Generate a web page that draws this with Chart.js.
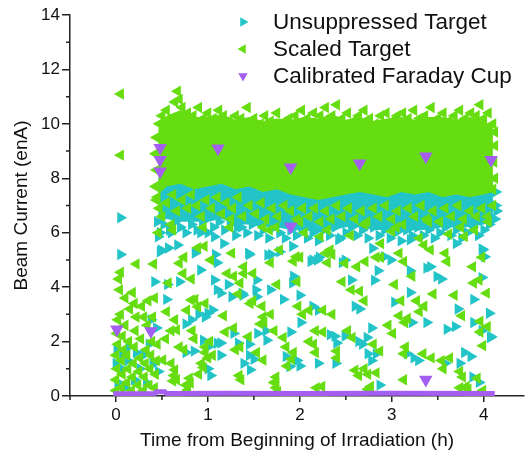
<!DOCTYPE html>
<html>
<head>
<meta charset="utf-8">
<script src="https://cdn.jsdelivr.net/npm/chart.js@4.4.1/dist/chart.umd.min.js"></script>
<style>
  html, body { margin: 0; padding: 0; background: #fff; }
  #wrap { width: 532px; height: 456px; }
</style>
</head>
<body>
<div id="wrap"><canvas id="beamChart" width="532" height="456"></canvas></div>
<script>
// legend text / colours
const seriesNames = ['Unsuppressed Target', 'Scaled Target', 'Calibrated Faraday Cup'];
const seriesColors = ['#22c4c8', '#66dd11', '#a45ef0'];
const markerRotations = [90, 270, 180];

// axis ticks
const xMajorTicks = [0, 1, 2, 3, 4];
const xMinorTicks = [-0.5, 0.5, 1.5, 2.5, 3.5];
const yMajorTicks = [0, 2, 4, 6, 8, 10, 12, 14];
const yMinorTicks = [1, 3, 5, 7, 9, 11, 13];

// dense band (too many points to pick one by one) - edges
const bandTimes = [0.46, 0.55, 0.7, 0.85, 1.0, 1.15, 1.3, 1.45, 1.6, 1.75, 1.9, 2.05, 2.2, 2.35, 2.5, 2.65, 2.8, 2.95, 3.1, 3.25, 3.4, 3.55, 3.7, 3.85, 4.0, 4.1];
const unsuppressedBandTop = [8.0, 8.2, 8.1, 8.0, 8.1, 8.0, 8.0, 7.9, 8.0, 7.9, 7.8, 7.8, 7.7, 7.8, 7.8, 7.9, 7.8, 7.8, 7.9, 7.8, 7.9, 7.8, 7.9, 7.9, 8.0, 8.0];
const unsuppressedBandBottom = [6.4, 6.5, 6.4, 6.4, 6.4, 6.5, 6.3, 6.3, 6.2, 6.2, 6.1, 6.1, 6.0, 6.1, 6.2, 6.2, 6.1, 6.1, 6.0, 6.1, 6.1, 6.2, 6.2, 6.2, 6.3, 6.4];
const scaledBandTop = [10.0, 10.3, 10.5, 10.25, 10.25, 10.35, 10.15, 10.25, 10.1, 10.2, 10.15, 10.25, 10.2, 10.35, 10.15, 10.25, 10.1, 10.2, 10.25, 10.15, 10.25, 10.25, 10.15, 10.25, 10.1, 9.9];
const scaledBandBottom = [7.4, 7.7, 7.8, 7.6, 7.7, 7.8, 7.6, 7.7, 7.5, 7.6, 7.4, 7.3, 7.2, 7.3, 7.4, 7.5, 7.4, 7.3, 7.5, 7.4, 7.5, 7.3, 7.4, 7.3, 7.4, 7.5];

// Unsuppressed Target [time (h), current (enA)]
const unsuppressedEarly = [
  [0.0, 1.2], [0.01, 1.7], [0.02, 0.5], [0.06, 1.0], [0.07, 1.5], [0.09, 0.3], [0.13, 1.3], [0.14, 1.8],
  [0.2, 0.6], [0.22, 1.6], [0.26, 1.0], [0.3, 1.5], [0.33, 0.5], [0.36, 1.9], [0.4, 1.2], [0.44, 2.5],
  [0.38, 2.8], [0.42, 1.2], [0.05, 6.55], [0.05, 5.2]
];
const unsuppressedScatter = [
  [0.48, 5.3], [0.86, 5.25], [1.1, 4.9], [1.08, 5.2], [1.45, 5.2], [1.69, 5.2], [1.78, 5.3],
  [0.42, 4.2], [0.56, 4.1], [0.69, 4.2], [1.1, 3.9], [1.22, 4.1], [1.52, 3.9], [1.68, 3.9], [1.93, 4.4], [2.0, 3.7],
  [0.55, 3.55], [0.9, 3.0], [0.97, 2.9], [1.26, 3.65], [1.38, 3.7], [1.82, 3.55],
  [0.76, 2.65], [0.76, 1.6], [0.85, 1.65], [0.95, 2.05], [1.14, 1.95], [1.45, 1.9], [1.54, 2.3], [1.64, 2.05],
  [1.63, 2.4], [1.9, 2.35], [2.01, 2.7], [1.0, 1.0], [1.03, 0.75], [1.14, 1.5], [1.45, 1.5], [1.5, 1.35],
  [1.97, 1.3], [2.0, 1.1], [0.46, 5.85], [0.6, 6.0], [0.67, 5.55], [0.49, 5.37], [0.57, 5.44], [0.92, 6.0],
  [1.07, 5.85], [1.17, 5.6], [1.32, 6.2], [1.44, 5.25], [1.53, 4.26], [1.65, 5.18], [1.92, 4.15], [0.92, 4.63],
  [1.07, 4.26], [1.14, 3.78], [1.37, 3.78], [1.53, 3.65], [1.0, 3.04], [1.05, 3.16], [0.82, 2.8], [0.46, 0.9],
  [1.01, 1.82], [1.1, 1.94], [1.33, 1.94], [1.28, 2.3], [1.39, 1.2], [1.46, 0.96], [1.85, 1.45], [1.89, 1.08],
  [2.14, 5.0], [2.21, 5.1], [2.46, 4.9], [2.49, 5.0], [2.6, 3.3], [2.65, 3.2], [2.81, 4.25], [2.85, 4.6],
  [3.03, 3.45], [3.2, 3.8], [3.2, 4.6], [3.38, 4.7], [3.54, 4.3], [3.89, 3.55], [3.98, 4.35], [3.98, 5.4],
  [3.72, 3.2], [3.89, 2.7], [3.98, 2.4], [4.07, 2.15], [3.22, 2.7], [3.38, 2.7], [3.6, 2.45], [3.69, 2.55],
  [2.78, 2.5], [2.73, 2.15], [2.64, 2.0], [2.68, 1.9], [2.38, 2.2], [2.4, 1.95], [2.14, 3.3], [2.2, 3.15],
  [2.33, 2.25], [2.49, 2.2], [2.2, 1.2], [2.39, 1.2], [2.74, 1.55], [2.78, 1.3], [2.83, 1.55], [3.17, 1.55],
  [3.24, 1.4], [3.29, 1.3], [3.58, 1.2], [3.74, 1.2], [3.88, 0.7], [3.95, 0.5], [3.79, 1.6], [3.86, 1.45],
  [2.87, 0.4], [1.92, 5.5], [2.12, 4.94], [2.19, 5.0], [2.42, 5.74], [2.56, 4.26], [2.79, 5.43], [2.92, 5.12],
  [2.99, 5.0], [3.2, 5.74], [3.42, 4.75], [3.49, 4.39], [3.7, 5.6], [3.99, 5.37], [4.01, 5.12], [4.06, 3.04],
  [4.08, 2.18]
];
const unsuppressedBandEdge = [
  [0.45, 6.4], [0.48, 6.0], [0.52, 6.3], [0.58, 6.1], [0.64, 6.4], [0.7, 6.2], [0.76, 6.0], [0.82, 6.3],
  [0.88, 6.1], [0.94, 6.4], [1.0, 6.0], [1.06, 6.2], [1.12, 6.4], [1.18, 6.1], [1.24, 6.3], [1.3, 5.9],
  [1.36, 6.2], [1.42, 6.0], [1.48, 6.3], [1.54, 5.9], [1.6, 6.1], [1.66, 5.8], [1.72, 6.2], [1.78, 6.0],
  [1.84, 5.8], [1.9, 6.1], [1.96, 5.9], [2.02, 6.2], [2.08, 5.8], [2.14, 6.0], [2.2, 5.7], [2.26, 6.1],
  [2.32, 5.9], [2.38, 6.2], [2.44, 5.8], [2.5, 6.0], [2.56, 6.2], [2.62, 5.9], [2.68, 6.1], [2.74, 5.8],
  [2.8, 6.2], [2.86, 5.9], [2.92, 6.1], [2.98, 5.8], [3.04, 6.0], [3.1, 5.7], [3.16, 6.1], [3.22, 5.9],
  [3.28, 6.2], [3.34, 5.9], [3.4, 6.1], [3.46, 5.8], [3.52, 6.0], [3.58, 6.2], [3.64, 5.9], [3.7, 6.1],
  [3.76, 5.8], [3.82, 6.0], [3.88, 6.2], [3.94, 5.9], [4.0, 6.1], [4.06, 6.3], [4.12, 6.5], [4.13, 7.0],
  [4.13, 7.5], [4.14, 6.8], [0.52, 7.9], [1.15, 7.95], [1.7, 7.7], [2.25, 7.6], [2.9, 7.65], [3.5, 7.7]
];

// Scaled Target [time (h), current (enA)]
const scaledEarly = [
  [0.0, 0.2], [0.0, 0.6], [0.01, 1.0], [0.0, 1.5], [0.02, 1.9], [0.01, 2.3], [0.02, 2.8], [0.05, 3.0],
  [0.06, 0.3], [0.07, 0.8], [0.06, 1.3], [0.08, 1.7], [0.07, 2.2], [0.1, 2.6], [0.12, 0.5], [0.13, 1.0],
  [0.12, 1.5], [0.14, 2.0], [0.15, 3.2], [0.17, 0.2], [0.18, 0.7], [0.19, 1.2], [0.2, 1.8], [0.21, 2.4],
  [0.22, 2.9], [0.24, 0.4], [0.25, 0.9], [0.26, 1.4], [0.27, 2.1], [0.28, 3.3], [0.3, 0.2], [0.31, 0.7],
  [0.32, 1.2], [0.33, 1.7], [0.34, 2.6], [0.36, 0.4], [0.37, 1.0], [0.38, 1.5], [0.39, 2.0], [0.4, 2.9],
  [0.42, 0.3], [0.43, 0.8], [0.44, 1.3], [0.45, 1.9], [0.3, 2.9], [0.2, 3.4], [0.35, 3.5],
  [0.03, 4.3], [0.05, 4.55], [0.04, 3.9], [0.22, 4.85], [0.18, 3.8], [0.41, 4.85], [0.42, 3.6], [0.1, 3.6],
  [0.05, 11.1], [0.05, 8.85]
];
const scaledScatter = [
  [0.69, 4.88], [0.74, 5.1], [1.26, 5.25], [1.68, 4.9], [1.93, 4.95], [2.0, 5.1],
  [0.73, 4.5], [0.82, 4.3], [0.57, 4.15], [1.28, 4.4], [1.39, 4.5], [1.75, 4.1], [1.97, 4.2],
  [0.86, 3.55], [0.97, 3.4], [0.55, 3.1], [0.77, 3.15], [1.17, 2.95], [1.33, 3.75], [1.46, 3.4], [1.6, 2.9],
  [1.68, 3.0], [1.98, 3.3], [2.03, 3.0], [0.54, 2.1], [0.6, 2.4], [0.69, 1.8], [0.74, 1.7], [0.85, 2.1],
  [0.83, 2.4], [0.97, 1.8], [1.02, 2.0], [1.19, 2.35], [1.28, 2.5], [1.3, 1.7], [1.35, 1.8], [1.57, 2.65],
  [1.61, 2.7], [1.72, 2.4], [1.82, 2.15], [1.93, 1.6], [0.6, 1.2], [0.63, 0.75], [0.62, 0.55], [0.76, 0.4],
  [0.8, 0.65], [0.9, 0.8], [0.93, 1.2], [0.95, 1.05], [1.0, 1.4], [0.97, 1.6], [1.34, 0.75], [1.36, 0.6],
  [1.72, 0.5], [1.74, 0.3], [1.74, 0.7], [1.86, 1.1], [1.91, 1.35], [0.46, 6.0], [0.62, 6.1], [0.96, 5.5],
  [0.89, 5.45], [1.24, 6.2], [1.39, 4.75], [1.49, 4.5], [1.67, 6.1], [1.74, 6.2], [1.78, 5.37], [1.03, 5.0],
  [1.21, 4.5], [1.35, 4.15], [1.49, 3.5], [1.59, 3.3], [0.82, 3.53], [0.89, 3.28], [0.64, 2.8], [0.66, 2.43],
  [0.51, 1.32], [0.64, 0.96], [0.66, 0.6], [0.78, 0.22], [0.81, 0.48], [1.05, 1.5], [1.44, 2.18], [1.53, 1.6],
  [1.6, 1.32], [1.74, 0.47], [1.76, 0.16], [1.85, 1.8], [2.35, 5.2], [2.3, 4.9], [2.46, 4.2], [2.56, 3.9],
  [2.65, 3.85], [2.7, 3.5], [2.83, 5.1], [2.88, 5.1], [3.03, 4.1], [3.1, 3.5], [3.22, 4.4], [3.27, 3.5],
  [3.45, 3.75], [3.68, 3.7], [3.89, 4.15], [3.98, 5.1], [3.76, 2.95], [3.96, 2.75], [4.04, 2.55], [3.17, 2.85],
  [3.3, 3.1], [3.35, 3.3], [3.08, 2.95], [3.14, 2.7], [2.96, 2.6], [3.01, 2.3], [2.8, 1.9], [2.87, 1.65],
  [2.52, 2.4], [2.57, 2.15], [2.25, 2.35], [2.17, 2.4], [2.1, 3.15], [2.25, 3.15], [2.35, 3.0], [2.1, 2.0],
  [2.15, 1.9], [2.17, 1.6], [2.4, 1.65], [2.4, 1.4], [2.6, 0.95], [2.64, 0.75], [2.7, 1.0], [2.74, 0.8],
  [2.83, 0.85], [3.15, 1.8], [3.13, 1.55], [3.34, 1.55], [3.43, 1.4], [3.54, 1.3], [3.63, 1.4], [3.56, 1.0],
  [3.74, 0.9], [3.77, 0.7], [3.93, 0.65], [3.96, 2.35], [3.99, 1.85], [2.18, 0.3], [2.24, 0.35], [2.74, 0.25],
  [2.77, 0.35], [3.13, 0.6], [3.74, 0.3], [3.81, 0.35], [3.83, 0.25], [3.99, 0.2], [1.96, 5.12], [2.28, 5.25],
  [2.33, 5.37], [2.22, 5.86], [2.49, 4.88], [2.62, 4.75], [2.71, 4.94], [2.88, 5.6], [3.08, 5.25], [3.13, 4.94],
  [3.35, 5.55], [3.42, 5.37], [3.58, 5.25], [3.6, 4.94], [3.79, 5.86], [3.88, 4.75], [3.95, 4.26], [4.03, 3.78],
  [2.05, 6.0], [2.55, 5.9], [3.0, 6.05], [3.3, 5.8], [3.62, 5.95], [3.9, 6.1]
];
const scaledBandTopEdge = [
  [0.47, 10.0], [0.5, 10.3], [0.55, 10.5], [0.6, 10.2], [0.64, 10.8], [0.67, 11.2], [0.69, 10.9], [0.72, 10.6],
  [0.78, 10.4], [0.84, 10.3], [0.9, 10.6], [0.95, 10.2], [1.0, 10.4], [1.06, 10.2], [1.12, 10.5], [1.17, 10.3],
  [1.23, 10.1], [1.3, 10.3], [1.36, 10.2], [1.43, 10.6], [1.5, 10.2], [1.57, 10.0], [1.62, 10.3], [1.68, 10.1],
  [1.75, 10.4], [1.82, 10.0], [1.88, 10.2], [1.95, 10.3], [2.02, 10.5], [2.08, 10.2], [2.15, 10.4], [2.22, 10.3],
  [2.28, 10.6], [2.35, 10.3], [2.4, 10.7], [2.46, 10.2], [2.52, 10.4], [2.58, 10.1], [2.64, 10.3], [2.7, 10.5],
  [2.76, 10.2], [2.82, 10.0], [2.88, 10.3], [2.94, 10.4], [3.0, 10.1], [3.06, 10.3], [3.12, 10.4], [3.18, 10.2],
  [3.24, 10.5], [3.3, 10.2], [3.36, 10.3], [3.43, 10.6], [3.5, 10.2], [3.56, 10.4], [3.62, 10.1], [3.68, 10.3],
  [3.74, 10.5], [3.8, 10.2], [3.86, 10.4], [3.92, 10.3], [3.96, 10.7], [4.0, 10.2], [4.05, 10.4], [4.1, 10.0],
  [4.12, 9.7], [4.12, 9.2], [4.11, 8.6], [4.12, 8.0], [4.1, 7.6], [0.44, 9.5], [0.43, 8.9], [0.44, 8.3],
  [0.43, 7.7], [0.44, 7.2]
];
const scaledBandLowEdge = [
  [0.45, 7.3], [0.47, 6.9], [0.5, 6.6], [0.55, 7.1], [0.62, 7.4], [0.66, 6.8], [0.72, 7.2], [0.78, 6.9],
  [0.82, 7.4], [0.88, 7.0], [0.93, 6.6], [0.98, 7.2], [1.04, 6.9], [1.1, 7.3], [1.15, 6.7], [1.2, 7.1],
  [1.27, 6.9], [1.33, 7.3], [1.38, 6.6], [1.45, 7.0], [1.52, 6.7], [1.58, 7.1], [1.63, 6.5], [1.7, 6.9],
  [1.76, 6.6], [1.83, 7.0], [1.9, 6.8], [1.97, 6.5], [2.03, 6.9], [2.1, 6.6], [2.16, 6.9], [2.22, 6.4],
  [2.28, 6.8], [2.34, 6.5], [2.4, 7.0], [2.46, 6.6], [2.53, 6.9], [2.6, 6.5], [2.67, 6.8], [2.73, 6.4],
  [2.8, 6.9], [2.86, 6.6], [2.93, 7.0], [3.0, 6.5], [3.06, 6.8], [3.12, 6.3], [3.18, 6.9], [3.25, 6.6],
  [3.32, 7.0], [3.38, 6.5], [3.45, 6.8], [3.52, 6.4], [3.58, 6.9], [3.65, 6.6], [3.72, 7.0], [3.78, 6.5],
  [3.85, 6.8], [3.92, 6.6], [3.98, 6.9], [4.04, 6.6], [4.1, 7.0],
  [0.6, 6.3], [0.95, 6.2], [1.25, 6.5], [1.6, 6.2], [2.0, 6.4], [2.3, 6.1], [2.7, 6.3], [3.05, 6.2],
  [3.4, 6.4], [3.75, 6.2], [4.05, 6.4]
];

// Calibrated Faraday Cup
const faradayPoints = [
  [0.01, 2.45], [0.38, 2.38], [0.48, 9.12], [0.48, 8.68], [0.48, 8.25], [1.11, 9.1], [1.9, 8.4], [1.9, 6.22],
  [2.65, 8.55], [3.37, 8.8], [4.08, 8.68], [3.37, 0.6]
];
const faradayBaseTimes = [-0.03, 0.42, 0.44, 0.53, 0.55, 1.2, 2.0, 3.0, 4.12];
const faradayBaseValues = [0.08, 0.08, 0.16, 0.16, 0.09, 0.1, 0.09, 0.1, 0.09];

const axisColor = '#222';
const textColor = '#111';
const fontFamily = '"Liberation Sans", Arial, Helvetica, sans-serif';

function pts(list) {
  return list.map(p => ({ x: p[0], y: p[1] }));
}
function bandLine(values) {
  return bandTimes.map((t, i) => ({ x: t, y: values[i] }));
}

function drawTriangle(ctx, x, y, r, rotDeg, color) {
  let rad = rotDeg * Math.PI / 180;
  ctx.beginPath();
  for (let k = 0; k < 3; k++) {
    const a = rad + k * 2 * Math.PI / 3;
    const px = x + Math.sin(a) * r;
    const py = y - Math.cos(a) * r;
    if (k === 0) ctx.moveTo(px, py); else ctx.lineTo(px, py);
  }
  ctx.closePath();
  ctx.fillStyle = color;
  ctx.fill();
}

// legend sits inside the plot, top right
const cornerLegend = {
  id: 'cornerLegend',
  afterDraw(chart) {
    const ctx = chart.ctx;
    ctx.save();
    ctx.font = '22.5px ' + fontFamily;
    ctx.textBaseline = 'middle';
    seriesNames.forEach((name, i) => {
      const y = 22 + i * 27;
      drawTriangle(ctx, 243, y, 5.5, markerRotations[i], seriesColors[i]);
      ctx.fillStyle = textColor;
      ctx.fillText(name, 273, y + 1);
    });
    ctx.restore();
  }
};

// short minor ticks between the labelled ones
const minorTicks = {
  id: 'minorTicks',
  afterDraw(chart) {
    const { ctx, scales } = chart;
    const x = scales.x, y = scales.y;
    ctx.save();
    ctx.strokeStyle = axisColor;
    ctx.lineWidth = 1.5;
    ctx.beginPath();
    xMinorTicks.forEach(v => {
      const px = x.getPixelForValue(v);
      ctx.moveTo(px, x.top);
      ctx.lineTo(px, x.top + 4);
    });
    yMinorTicks.forEach(v => {
      const py = y.getPixelForValue(v);
      ctx.moveTo(y.right, py);
      ctx.lineTo(y.right - 4, py);
    });
    ctx.stroke();
    ctx.restore();
  }
};

const hiddenLine = {
  type: 'line',
  showLine: true,
  borderWidth: 0,
  pointRadius: 0,
  tension: 0
};

const pointRadius = 6.6;

const chart = new Chart(document.getElementById('beamChart').getContext('2d'), {
  type: 'scatter',
  data: {
    datasets: [
      Object.assign({}, hiddenLine, {
        label: 'unsuppressed band top',
        data: bandLine(unsuppressedBandTop),
        fill: '+1',
        backgroundColor: seriesColors[0],
        borderColor: seriesColors[0],
        order: 10
      }),
      Object.assign({}, hiddenLine, {
        label: 'unsuppressed band bottom',
        data: bandLine(unsuppressedBandBottom),
        fill: false,
        borderColor: seriesColors[0],
        order: 10
      }),
      {
        label: seriesNames[0],
        data: pts(unsuppressedEarly.concat(unsuppressedScatter, unsuppressedBandEdge)),
        pointStyle: 'triangle',
        pointRotation: markerRotations[0],
        pointRadius: pointRadius,
        pointBorderWidth: 0,
        pointBackgroundColor: seriesColors[0],
        backgroundColor: seriesColors[0],
        borderColor: seriesColors[0],
        order: 5
      },
      Object.assign({}, hiddenLine, {
        label: 'scaled band top',
        data: bandLine(scaledBandTop),
        fill: '+1',
        backgroundColor: seriesColors[1],
        borderColor: seriesColors[1],
        order: 4
      }),
      Object.assign({}, hiddenLine, {
        label: 'scaled band bottom',
        data: bandLine(scaledBandBottom),
        fill: false,
        borderColor: seriesColors[1],
        order: 4
      }),
      {
        label: seriesNames[1],
        data: pts(scaledEarly.concat(scaledScatter, scaledBandTopEdge, scaledBandLowEdge)),
        pointStyle: 'triangle',
        pointRotation: markerRotations[1],
        pointRadius: pointRadius,
        pointBorderWidth: 0,
        pointBackgroundColor: seriesColors[1],
        backgroundColor: seriesColors[1],
        borderColor: seriesColors[1],
        order: 3
      },
      {
        type: 'line',
        label: 'faraday baseline',
        data: faradayBaseTimes.map((t, i) => ({ x: t, y: faradayBaseValues[i] })),
        showLine: true,
        borderColor: seriesColors[2],
        borderWidth: 5,
        pointRadius: 0,
        tension: 0,
        fill: false,
        order: 1
      },
      {
        label: seriesNames[2],
        data: pts(faradayPoints),
        pointStyle: 'triangle',
        pointRotation: markerRotations[2],
        pointRadius: 7.8,
        pointBorderWidth: 0,
        pointBackgroundColor: seriesColors[2],
        backgroundColor: seriesColors[2],
        borderColor: seriesColors[2],
        order: 0
      }
    ]
  },
  options: {
    responsive: false,
    devicePixelRatio: 1,
    animation: false,
    events: [],
    layout: { padding: { top: 15, right: 0, bottom: 0, left: 0 } },
    plugins: {
      legend: { display: false },
      tooltip: { enabled: false }
    },
    scales: {
      x: {
        type: 'linear',
        min: -0.5,
        max: 4.44,
        afterBuildTicks: s => { s.ticks = xMajorTicks.map(v => ({ value: v })); },
        afterFit: s => { s.height = 60; },
        border: { color: axisColor, width: 1.5 },
        grid: { drawOnChartArea: false, color: axisColor, lineWidth: 1.5, tickLength: 6 },
        ticks: { font: { size: 17, family: fontFamily }, color: textColor, padding: 3, maxRotation: 0, autoSkip: false },
        title: {
          display: true,
          text: 'Time from Beginning of Irradiation (h)',
          font: { size: 19, family: fontFamily },
          color: textColor,
          padding: { top: 0, bottom: 4 }
        }
      },
      y: {
        type: 'linear',
        min: 0,
        max: 14,
        afterBuildTicks: s => { s.ticks = yMajorTicks.map(v => ({ value: v })); },
        afterFit: s => { s.width = 70; },
        border: { color: axisColor, width: 1.5 },
        grid: { drawOnChartArea: false, color: axisColor, lineWidth: 1.5, tickLength: 8 },
        ticks: { font: { size: 17, family: fontFamily }, color: textColor, padding: 2, autoSkip: false },
        title: {
          display: true,
          text: 'Beam Current (enA)',
          font: { size: 19, family: fontFamily },
          color: textColor,
          padding: { top: 10, bottom: 0 }
        }
      }
    }
  },
  plugins: [cornerLegend, minorTicks]
});
</script>
</body>
</html>
